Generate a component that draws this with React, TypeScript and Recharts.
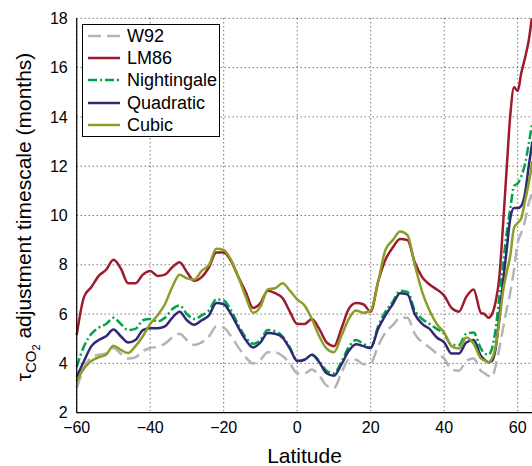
import { LineChart, Line, XAxis, YAxis, CartesianGrid, Legend } from "recharts";

const latitude = [
  -60, -58, -56, -54, -52, -50, -48, -46, -44, -42, -40, -38, -36, -34, -32, -30, -28, -26, -24, -22,
  -20, -18, -16, -14, -12, -10, -8, -6, -4, -2, 0, 2, 4, 6, 8, 10, 12, 14, 16, 18,
  20, 22, 24, 26, 28, 30, 32, 34, 36, 38, 40, 42, 44, 46, 48, 50,
  51, 52, 53, 54, 55, 56, 57, 58, 59, 60, 61, 62, 63, 64,
];

const w92 = [
  3.0, 3.8, 4.25, 4.35, 4.4, 4.62, 4.4, 4.2, 4.25, 4.5, 4.62, 4.68, 4.8, 5.05, 5.2, 4.95, 4.75, 4.85, 5.1, 5.5,
  5.45, 5.1, 4.65, 4.25, 4.0, 4.15, 4.45, 4.45, 4.3, 4.0, 3.6, 3.6, 3.75, 3.5, 3.1, 3.0, 3.6, 4.15, 4.15, 3.97,
  4.0, 4.7, 5.25, 5.55, 5.85, 5.85, 5.2, 4.85, 4.65, 4.4, 4.2, 3.75, 3.7, 4.1, 4.2, 3.7,
  3.6, 3.5, 3.45, 3.9, 4.6, 5.4, 6.2, 6.9, 7.8, 8.9, 9.3, 9.8, 10.5, 10.9,
];

const lm86 = [
  5.15, 6.7, 7.1, 7.55, 7.8, 8.2, 7.85, 7.25, 7.25, 7.6, 7.75, 7.55, 7.6, 7.9, 8.1, 7.7, 7.35, 7.5, 7.9, 8.5,
  8.5, 8.15, 7.5, 6.9, 6.25, 6.45, 6.95, 6.85, 6.65, 6.1, 5.6, 5.6, 5.8, 5.4, 4.85, 4.7, 5.4, 6.2, 6.45, 6.4,
  6.1, 7.3, 8.2, 8.7, 9.05, 9.0, 8.1, 7.5, 7.2, 7.0, 6.75, 6.25, 6.1, 6.7, 7.0, 6.05,
  6.0, 5.85, 6.0, 6.5, 7.5, 9.6, 11.9, 14.1, 15.2, 15.05, 15.8, 16.4, 17.1, 18.2,
];

const nightingale = [
  3.85, 4.7, 5.2, 5.45, 5.6, 5.85, 5.6, 5.35, 5.4, 5.75, 5.8, 5.7, 5.85, 6.2, 6.35, 6.0, 5.8, 5.95, 6.15, 6.6,
  6.55, 6.15, 5.55, 5.05, 4.8, 4.95, 5.35, 5.3, 5.1, 4.65, 4.1, 4.15, 4.35, 4.1, 3.7, 3.6, 4.05, 4.65, 4.95, 4.8,
  4.65, 5.5, 6.1, 6.5, 6.95, 6.9, 6.15, 5.8, 5.6, 5.4, 5.2, 4.75, 4.75, 5.2, 5.25, 4.6,
  4.4, 4.35, 4.6, 5.4, 6.7, 8.0, 9.3, 10.3, 11.2, 11.3, 11.6, 12.1, 12.9, 13.8,
];

const quadratic = [
  3.45, 4.1, 4.7, 4.95, 5.1, 5.38, 5.1, 4.85, 4.95, 5.35, 5.43, 5.43, 5.5, 5.85, 6.1, 5.75, 5.57, 5.75, 5.95, 6.45,
  6.4, 6.0, 5.45, 4.95, 4.65, 4.85, 5.23, 5.2, 5.05, 4.6, 4.1, 4.15, 4.35, 4.05, 3.6, 3.5, 3.95, 4.5, 4.78, 4.7,
  4.62, 5.4, 5.95, 6.4, 6.85, 6.8, 6.0, 5.6, 5.4, 5.05, 4.85, 4.4, 4.4, 4.85, 4.95, 4.3,
  4.15, 4.05, 4.1, 4.6, 5.9, 7.3, 8.6, 9.9, 10.3, 10.3, 10.4, 10.9, 12.0, 13.0,
];

const cubic = [
  3.27, 3.8, 4.1, 4.25, 4.35, 4.72, 4.55, 4.42, 4.7, 5.1, 5.6, 5.95, 6.4, 7.1, 7.6, 7.45, 7.4, 7.75, 8.0, 8.65,
  8.6, 8.2, 7.5, 6.7, 6.05, 6.3, 7.0, 7.05, 7.25, 6.95, 6.6, 6.35, 5.8, 5.1, 4.6, 4.45, 5.1, 5.8, 6.15, 6.05,
  6.15, 7.3, 8.6, 9.0, 9.35, 9.2, 8.0, 6.9, 6.15, 5.6, 5.25, 4.7, 4.6, 5.05, 4.8, 4.2,
  4.12, 4.05, 4.2, 4.7, 5.7, 6.9, 7.7, 8.4, 9.5, 9.7, 9.9, 10.6, 11.3, 12.2,
];

const xTicks = [-60, -40, -20, 0, 20, 40, 60];
const yTicks = [2, 4, 6, 8, 10, 12, 14, 16, 18];

const series = [
  { key: "W92", values: w92, color: "#b4b4b4", dash: "13 6" },
  { key: "LM86", values: lm86, color: "#9e1b2e", dash: undefined },
  { key: "Nightingale", values: nightingale, color: "#00a24a", dash: "9 3 2 3" },
  { key: "Quadratic", values: quadratic, color: "#2f2a78", dash: undefined },
  { key: "Cubic", values: cubic, color: "#8c9e25", dash: undefined },
];

const data = latitude.map((lat, i) => {
  const row: Record<string, number> = { lat };
  series.forEach((s) => {
    row[s.key] = s.values[i];
  });
  return row;
});

const font = "'Liberation Sans', Arial, Helvetica, sans-serif";

const fmt = (v: number) => String(v).replace("-", "\u2212");

const renderLegend = () => (
  <div
    style={{
      border: "1px solid #000",
      background: "#fff",
      width: 136,
      fontFamily: font,
      fontSize: 18,
      color: "#000",
    }}
  >
    {series.map((s) => (
      <div key={s.key} style={{ display: "flex", alignItems: "center", height: 22.2 }}>
        <svg width={44} height={10} style={{ flex: "none" }}>
          <line x1={5} y1={5} x2={37} y2={5} stroke={s.color} strokeWidth={2.5} strokeDasharray={s.dash} />
        </svg>
        <span style={{ lineHeight: "22px" }}>{s.key}</span>
      </div>
    ))}
  </div>
);

const renderYLabel = () => (
  <text
    transform="translate(31,217) rotate(-90)"
    textAnchor="middle"
    fontSize={21}
    fontFamily={font}
    fill="#000"
  >
    τ
    <tspan fontSize={15} dy={5}>CO</tspan>
    <tspan fontSize={11} dy={4}>2</tspan>
    <tspan dy={-9}> adjustment timescale (months)</tspan>
  </text>
);

const renderXLabel = (props: any) => {
  const vb = props.viewBox || {};
  return (
    <text x={vb.x + vb.width / 2} y={463} textAnchor="middle" fontSize={21} fontFamily={font} fill="#000">
      Latitude
    </text>
  );
};

export default function App() {
  return (
    <div style={{ position: "absolute", left: 0, top: 0, width: 532, height: 466, overflow: "hidden", background: "#fff" }}>
      <LineChart
        width={540}
        height={466}
        data={data}
        margin={{ top: 18.3, right: 7.6, bottom: 0, left: 26.7 }}
      >
        <CartesianGrid stroke="#333" strokeDasharray="1 3" />
        <XAxis
          dataKey="lat"
          type="number"
          domain={[-60, 64]}
          ticks={xTicks}
          tickFormatter={fmt}
          height={53.3}
          tickSize={0}
          tickMargin={9}
          axisLine={{ stroke: "#000", strokeWidth: 1.2 }}
          tickLine={false}
          tick={{ fontSize: 16, fill: "#000", fontFamily: font }}
          label={renderXLabel}
        />
        <YAxis
          type="number"
          domain={[2, 18]}
          ticks={yTicks}
          allowDataOverflow
          width={50}
          tickSize={0}
          tickMargin={9}
          axisLine={{ stroke: "#000", strokeWidth: 1.2 }}
          tickLine={false}
          tick={{ fontSize: 16, fill: "#000", fontFamily: font }}
          label={renderYLabel}
        />
        <Legend
          layout="vertical"
          align="center"
          verticalAlign="middle"
          content={renderLegend}
          wrapperStyle={{ left: 82, top: 24, width: 138 }}
        />
        {series.map((s) => (
          <Line
            key={s.key}
            dataKey={s.key}
            type="monotone"
            stroke={s.color}
            strokeWidth={2.5}
            strokeDasharray={s.dash}
            dot={false}
            activeDot={false}
            isAnimationActive={false}
          />
        ))}
      </LineChart>
    </div>
  );
}
